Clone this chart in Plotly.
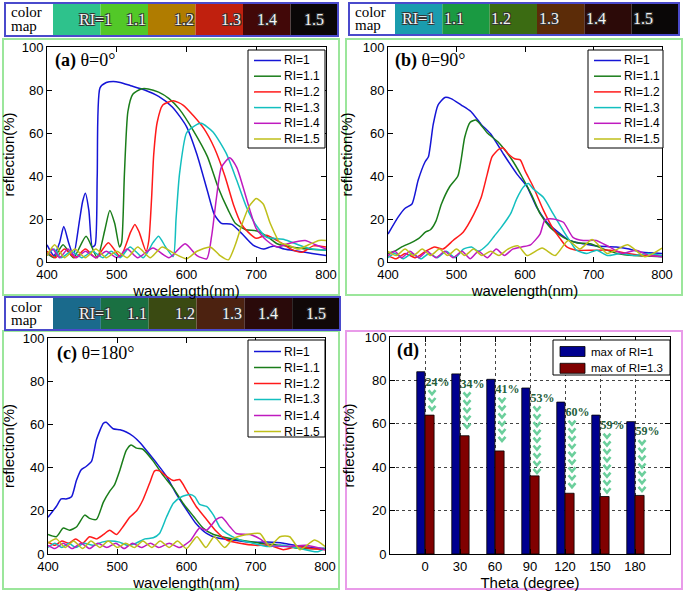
import numpy as np
import plotly.graph_objects as go

# ---- data (wavelength nm, reflection %) ----
A_RI10 = [(400,8),(410,3),(418,9),(424,16.5),(431,9),(438,3),(446,18),(451,28),(455,32),(460,24),(465,7),(469,8),(472,40),(476,81),(485,83.5),(495,84),(505,83.5),(520,82),(540,80),(560,77),(580,72),(600,63),(615,50),(630,33),(640,22),(650,18),(665,17.5),(680,13),(695,8),(710,6),(725,7.5),(740,6),(760,5),(780,4),(800,3)]
A_RI11 = [(400,4),(410,2),(423,8),(438,2),(456,12),(472,2),(483,15),(490,24),(497,18),(504,7),(507,9),(511,41),(516,70),(523,78),(535,80.5),(545,80.5),(560,79),(575,76),(590,71),(610,61),(630,49),(645,35),(660,24),(670,18),(685,15),(700,14.5),(715,12),(730,8.5),(750,7),(775,6),(800,5.5)]
A_RI12 = [(400,5),(412,2),(425,6),(440,2),(455,6),(470,2),(488,9),(505,2.5),(520,14),(526,17.5),(532,14),(542,5),(546,10),(550,30),(553,50),(558,65),(566,73),(581,75),(595,73),(610,68),(625,62),(640,53),(655,40),(668,26),(678,18),(688,14),(700,11),(715,12.5),(735,9),(750,6),(765,4.5),(782,7.5),(800,7)]
A_RI13 = [(400,3),(410,6),(420,2),(435,5),(450,2),(465,5),(480,2),(492,5),(505,2),(519,7),(538,2),(552,9),(560,12),(570,7),(581,2.5),(585,20),(590,41),(600,60),(610,63),(621,64.5),(638,60.5),(657,50.5),(672,38),(686,25.5),(700,17),(715,11.5),(740,10.5),(760,8),(780,6),(800,5.5)]
A_RI14 = [(400,3),(408,6),(418,2),(430,6),(442,2),(455,5),(470,2),(485,5),(500,2),(515,6),(530,2),(552,6.5),(575,2),(598,8.5),(615,3),(629,1.5),(636,12),(643,30),(650,44),(662,48.5),(672,44),(681,35),(691,24),(700,15.5),(715,10),(730,7),(745,8.5),(770,10),(785,8),(800,6)]
A_RI15 = [(400,3),(411,8),(425,2),(440,6),(455,2),(470,6),(485,2),(500,5),(515,2),(530,7),(548,2),(565,7),(582,4),(600,1.5),(615,5),(634,7),(648,3),(660,1),(670,8),(680,18),(690,26),(700,29.5),(710,27),(720,18),(734,9),(745,8),(760,6),(775,8),(790,10),(800,10)]

B_RI10 = [(400,13),(415,21),(425,25),(435,27),(444,38),(454,46.5),(459,49),(466,64),(473,73),(483,76.5),(492,76),(507,73),(521,70),(536,64),(550,59.5),(569,50),(588,41),(603,35),(617,25.5),(632,18.5),(646,14.5),(665,10),(685,8.5),(704,7.5),(733,7),(752,6),(771,4.5),(800,4)]
B_RI11 = [(400,4),(410,5),(420,7),(434,9),(445,11),(455,14),(462,15),(470,19),(478,27),(490,35),(502,40),(507,48),(512,58),(520,65),(528,66),(535,64),(545,60),(560,56),(580,48),(595,40),(610,31),(622,22.5),(637,16),(656,11.5),(675,9),(695,8.5),(715,6),(735,4),(760,3),(800,2.5)]
B_RI12 = [(400,3),(412,1.5),(425,4),(440,2),(455,5),(468,7),(480,6),(495,10),(510,14),(525,22),(536,30),(545,41),(552,49),(562,52.5),(568,53),(575,50.5),(585,48),(593,47.5),(600,42.5),(612,35),(627,24),(641,15.5),(651,11),(661,7),(675,5.5),(700,5.5),(725,5.5),(750,4),(775,3),(800,3)]
B_RI13 = [(400,2),(410,4),(422,1.5),(435,4),(448,1.5),(460,4),(472,2),(485,5),(498,2),(510,6),(522,7),(532,5),(545,8),(555,12),(565,16),(579,22.5),(588,29.5),(598,35),(605,36.5),(612,34),(627,30),(641,22.5),(656,14.5),(665,10),(675,5.5),(690,4),(705,5.5),(720,3),(740,4),(760,3),(780,4),(800,3)]
B_RI14 = [(400,3),(410,5),(420,2),(432,5),(445,2),(457,5),(470,2),(483,5),(495,2),(508,5),(520,1.5),(532,5),(545,2),(558,6),(570,3),(582,6),(595,7),(608,8),(622,13),(629,19.5),(641,20),(656,18.5),(670,11.5),(685,10),(704,10),(723,7),(742,4),(762,5.5),(781,3),(800,2.5)]
B_RI15 = [(400,5),(412,3),(425,6),(437,3),(450,6),(462,3),(475,6),(487,3),(500,6),(512,3),(525,6),(537,3),(550,5),(562,3),(575,6),(590,7.5),(603,3),(625,6.5),(644,3),(663,10),(680,6),(698,10.5),(720,4),(735,6),(750,8),(775,2.5),(800,6.5)]

C_RI10 = [(400,17),(412,22),(419,25.5),(426,25.5),(434,26.5),(441,34),(448,39),(455,40.5),(463,43),(470,53),(480,60.5),(484,61),(494,58),(504,57.5),(513,56.5),(523,54.5),(533,51.5),(542,48),(557,42),(571,36),(585,28),(600,20.5),(614,14),(629,9.5),(643,7.5),(667,6.5),(692,5.5),(716,5.5),(740,5),(764,3.5),(800,2.5)]
C_RI11 = [(400,9),(412,8),(422,12),(431,11),(441,12.5),(453,18),(460,16.5),(470,16),(480,24),(489,29),(496,32),(504,39),(513,48),(520,50.5),(528,49),(537,48.5),(552,43),(566,36.5),(581,30.5),(595,23.5),(610,17.5),(624,12),(639,9),(658,7.5),(677,6.5),(706,5),(735,4),(764,2.5),(800,2.5)]
C_RI12 = [(400,5.5),(410,4),(420,6),(430,5),(440,7),(450,5),(460,8),(470,7),(480,9),(489,11),(499,9),(508,12.5),(518,17),(528,20),(537,25),(547,33),(554,38.5),(561,38.5),(571,36),(581,34),(590,34.5),(600,29.5),(614,22),(629,16),(643,10.5),(658,6.5),(677,5),(700,4),(720,4),(740,2),(760,3.5),(780,2.5),(800,2)]
C_RI13 = [(400,3),(410,5),(420,3),(430,5),(440,3),(452,5),(465,4),(478,5.5),(490,6),(503,5.5),(515,4),(527,5),(540,7),(552,7.5),(561,9.5),(571,17),(581,23.5),(593,26.5),(605,27.5),(612,26.5),(619,23),(629,22),(639,18),(648,12.5),(658,9.5),(677,6.5),(696,5),(716,3.5),(740,4),(764,2.5),(788,1),(800,2.5)]
C_RI14 = [(400,4),(410,2.5),(422,5),(435,2.5),(448,5),(460,2.5),(472,5),(485,3),(498,5),(510,2.5),(522,5),(535,3),(548,5),(560,3),(575,5),(590,3),(605,6),(619,12),(629,11),(643,16),(651,17),(663,12.5),(672,9.5),(692,9),(706,7),(720,4),(745,3.5),(773,4),(800,2)]
C_RI15 = [(400,5),(412,7),(425,3),(437,6),(450,2.5),(462,6),(475,3),(487,6),(500,3),(512,5),(525,3),(537,6),(550,3),(562,6),(575,3),(587,6),(600,2.5),(615,8),(628,3),(640,8),(655,3),(667,7),(687,9),(706,9.5),(720,3.5),(735,8),(749,8),(764,2),(785,6.5),(800,3.5)]

RI_NAMES = ["RI=1", "RI=1.1", "RI=1.2", "RI=1.3", "RI=1.4", "RI=1.5"]
MAP_LABELS = ["RI=1", "1.1", "1.2", "1.3", "1.4", "1.5"]

THETA = ["0", "30", "60", "90", "120", "150", "180"]
MAX_RI10 = [84, 83, 80.5, 76.5, 70, 64, 61]
MAX_RI13 = [64, 54.5, 47.5, 36, 28, 26.5, 27]
BAR_NAMES = ["max of RI=1", "max of RI=1.3"]
DROP_LABELS = ["24%", "34%", "41%", "53%", "60%", "59%", "59%"]

# ---- styling ----
W, H = 685, 593
LINE_COLORS = ["#1515d6", "#1a7d1a", "#ff1a1a", "#13bfbf", "#bf1abf", "#bfbf1a"]
BAR_COLORS = ["#00008f", "#800000"]
MAP_A = ["#2ec28c", "#52c828", "#b07c00", "#c0200e", "#420808", "#0a0707"]
MAP_B = ["#1a9cae", "#1a9a42", "#3b6b12", "#5c2c08", "#2c0a08", "#0a0707"]
MAP_C = ["#1a6a8c", "#1a7042", "#3a4a12", "#4c2210", "#2a0a0a", "#100808"]
SANS = "Liberation Sans, Arial, sans-serif"
SERIF = "Liberation Serif, Times New Roman, serif"


def px(x):
    return x / W


def py(y):
    return 1 - y / H


fig = go.Figure()

panels = [
    ("x", "y", [A_RI10, A_RI11, A_RI12, A_RI13, A_RI14, A_RI15]),
    ("x2", "y2", [B_RI10, B_RI11, B_RI12, B_RI13, B_RI14, B_RI15]),
    ("x3", "y3", [C_RI10, C_RI11, C_RI12, C_RI13, C_RI14, C_RI15]),
]
for xa, ya, curves in panels:
    for name, col, pts in zip(RI_NAMES, LINE_COLORS, curves):
        wl = [p[0] for p in pts]
        rf = [p[1] for p in pts]
        fig.add_trace(go.Scatter(
            x=wl, y=rf, name=name, mode="lines", xaxis=xa, yaxis=ya, showlegend=False,
            line=dict(color=col, width=1.5, shape="spline", smoothing=0.6),
        ))

# panel (d) bars
idx = np.arange(len(THETA))
fig.add_trace(go.Bar(x=idx, y=MAX_RI10, name=BAR_NAMES[0], width=0.23, offset=-0.235, showlegend=False,
                     marker=dict(color=BAR_COLORS[0], line=dict(color="#000", width=0.8)),
                     xaxis="x4", yaxis="y4"))
fig.add_trace(go.Bar(x=idx, y=MAX_RI13, name=BAR_NAMES[1], width=0.26, offset=0.0, showlegend=False,
                     marker=dict(color=BAR_COLORS[1], line=dict(color="#000", width=0.8)),
                     xaxis="x4", yaxis="y4"))

# green chevrons between the two maxima
cx, cy = [], []
for i, (hi, lo) in enumerate(zip(MAX_RI10, MAX_RI13)):
    xc = i + 0.2
    for yc in np.arange(hi - 9.5, lo + 2, -3.6):
        cx += [xc - 0.1, xc, xc + 0.1, None]
        cy += [yc + 1.0, yc - 0.9, yc + 1.0, None]
fig.add_trace(go.Scatter(x=cx, y=cy, mode="lines", showlegend=False, hoverinfo="skip",
                         line=dict(color="#6ccf9c", width=2.6), xaxis="x4", yaxis="y4"))
fig.add_trace(go.Scatter(x=idx + 0.36, y=np.array(MAX_RI10) - 5, mode="text", text=DROP_LABELS,
                         textfont=dict(family=SERIF, size=12, color="#1f5f3c", weight="bold"),
                         showlegend=False, hoverinfo="skip", xaxis="x4", yaxis="y4"))

axis_common = dict(showline=True, linecolor="#000", linewidth=1, mirror="allticks", automargin=False,
                   ticks="inside", ticklen=5, tickcolor="#000", showgrid=False, zeroline=False,
                   tickfont=dict(family=SANS, size=13, color="#000"),
                   title_font=dict(family=SANS, size=15, color="#000"))

def wl_axis(x0, x1, anchor):
    return dict(axis_common, domain=[px(x0), px(x1)], range=[400, 800], tickvals=[400, 500, 600, 700, 800],
                anchor=anchor, title=dict(text="wavelength(nm)", standoff=0))

def rf_axis(y0, y1, anchor):
    return dict(axis_common, domain=[py(y1), py(y0)], range=[0, 100], tickvals=[0, 20, 40, 60, 80, 100],
                anchor=anchor, title=dict(text="reflection(%)", standoff=6))

fig.update_layout(
    template="none",
    width=W, height=H, margin=dict(l=0, r=0, t=0, b=0, autoexpand=False),
    paper_bgcolor="#fff", plot_bgcolor="#fff", showlegend=False, barmode="overlay",
    xaxis=wl_axis(47, 326, "y"), yaxis=rf_axis(47, 262, "x"),
    xaxis2=wl_axis(388, 662, "y2"), yaxis2=rf_axis(47, 262, "x2"),
    xaxis3=wl_axis(48, 325, "y3"), yaxis3=rf_axis(338, 554, "x3"),
    xaxis4=dict(axis_common, domain=[px(390), px(670)], range=[-1, 7], tickvals=list(idx), ticktext=THETA,
                anchor="y4", showgrid=True, gridcolor="#444", griddash="dot", gridwidth=0.6,
                title=dict(text="Theta (degree)", standoff=0)),
    yaxis4=dict(axis_common, domain=[py(554), py(337)], range=[0, 100], tickvals=[0, 20, 40, 60, 80, 100],
                anchor="x4", showgrid=True, gridcolor="#444", griddash="dot", gridwidth=0.6,
                title=dict(text="reflection(%)", standoff=6)),
)

shapes = []
annotations = []

# panel frames
for x0, y0, x1, y1, col in [(3, 39, 339, 295, "#9be69b"), (346, 39, 682, 295, "#9be69b"),
                            (3, 331, 339, 589, "#9be69b"), (346, 331, 682, 589, "#e99be9")]:
    shapes.append(dict(type="rect", xref="paper", yref="paper", x0=px(x0), x1=px(x1), y0=py(y1), y1=py(y0),
                       line=dict(color=col, width=2), layer="below"))


# MATLAB-style compact legend boxes (keys only)
def legend_box(x0, x1, y0, y1, names, colors, first_y, step, patch=False, size=12):
    shapes.append(dict(type="rect", xref="paper", yref="paper", x0=px(x0), x1=px(x1), y0=py(y1), y1=py(y0),
                       fillcolor="#fff", line=dict(color="#000", width=1)))
    for k, (nm, c) in enumerate(zip(names, colors)):
        yy = first_y + k * step
        if patch:
            shapes.append(dict(type="rect", xref="paper", yref="paper", x0=px(x0 + 7), x1=px(x0 + 32),
                               y0=py(yy + 5), y1=py(yy - 5), fillcolor=c, line=dict(color="#000", width=0.8)))
            tx = x0 + 36
        else:
            shapes.append(dict(type="line", xref="paper", yref="paper", x0=px(x0 + 6), x1=px(x0 + 33),
                               y0=py(yy), y1=py(yy), line=dict(color=c, width=1.5)))
            tx = x0 + 34
        annotations.append(dict(xref="paper", yref="paper", x=px(tx), y=py(yy), xanchor="left",
                                yanchor="middle", text=nm, showarrow=False,
                                font=dict(family=SANS, size=size, color="#000")))

legend_box(248, 325, 50, 148, RI_NAMES, LINE_COLORS, 60.5, 15.7)
legend_box(588, 663, 50, 148, RI_NAMES, LINE_COLORS, 60.5, 15.7)
legend_box(248, 325, 340, 437, RI_NAMES, LINE_COLORS, 351.5, 16)
legend_box(553, 670, 340, 375, BAR_NAMES, BAR_COLORS, 351.5, 16.8, patch=True, size=11.5)


# colour-map strips
def color_map(x0, xw, x1, y0, y1, colors):
    cw = (x1 - xw) / len(colors)
    ym = (y0 + y1) / 2
    for k, (c, lab) in enumerate(zip(colors, MAP_LABELS)):
        a = xw + k * cw
        shapes.append(dict(type="rect", xref="paper", yref="paper", x0=px(a), x1=px(a + cw),
                           y0=py(y1), y1=py(y0), fillcolor=c, line=dict(width=0)))
        annotations.append(dict(xref="paper", yref="paper", x=px(a + cw / 2), y=py(ym), yanchor="middle",
                                text=lab, showarrow=False,
                                font=dict(family=SERIF, size=16, color="#f4f4f4",
                                          shadow="1px 1px 0 #333, -1px -1px 0 #333, 1px -1px 0 #333, -1px 1px 0 #333")))
    for txt, yy in [("color", ym - 7), ("map", ym + 6)]:
        annotations.append(dict(xref="paper", yref="paper", x=px(x0 + 4), y=py(yy), xanchor="left",
                                yanchor="middle", text=txt, showarrow=False,
                                font=dict(family=SERIF, size=15, color="#000")))
    shapes.append(dict(type="rect", xref="paper", yref="paper", x0=px(x0), x1=px(x1), y0=py(y1), y1=py(y0),
                       line=dict(color="#4a4acc", width=2)))

color_map(5, 53, 338, 3, 36, MAP_A)
color_map(349, 395, 679, 3, 35, MAP_B)
color_map(5, 53, 340, 297, 330, MAP_C)

# panel titles
for x, y, t in [(53, 60, "<b>(a)</b> θ=0°"), (393, 60, "<b>(b)</b> θ=90°"),
                (55, 353, "<b>(c)</b> θ=180°"), (395, 350, "<b>(d)</b>")]:
    annotations.append(dict(xref="paper", yref="paper", x=px(x), y=py(y), xanchor="left", yanchor="middle",
                            text=t, showarrow=False, font=dict(family=SERIF, size=18, color="#000")))

fig.update_layout(shapes=shapes, annotations=annotations)

# the page body has a default 8px margin; drop it so the figure fills the window
fig.write_html("out.html", config={"displayModeBar": False},
               post_script="document.body.style.margin='0';")
